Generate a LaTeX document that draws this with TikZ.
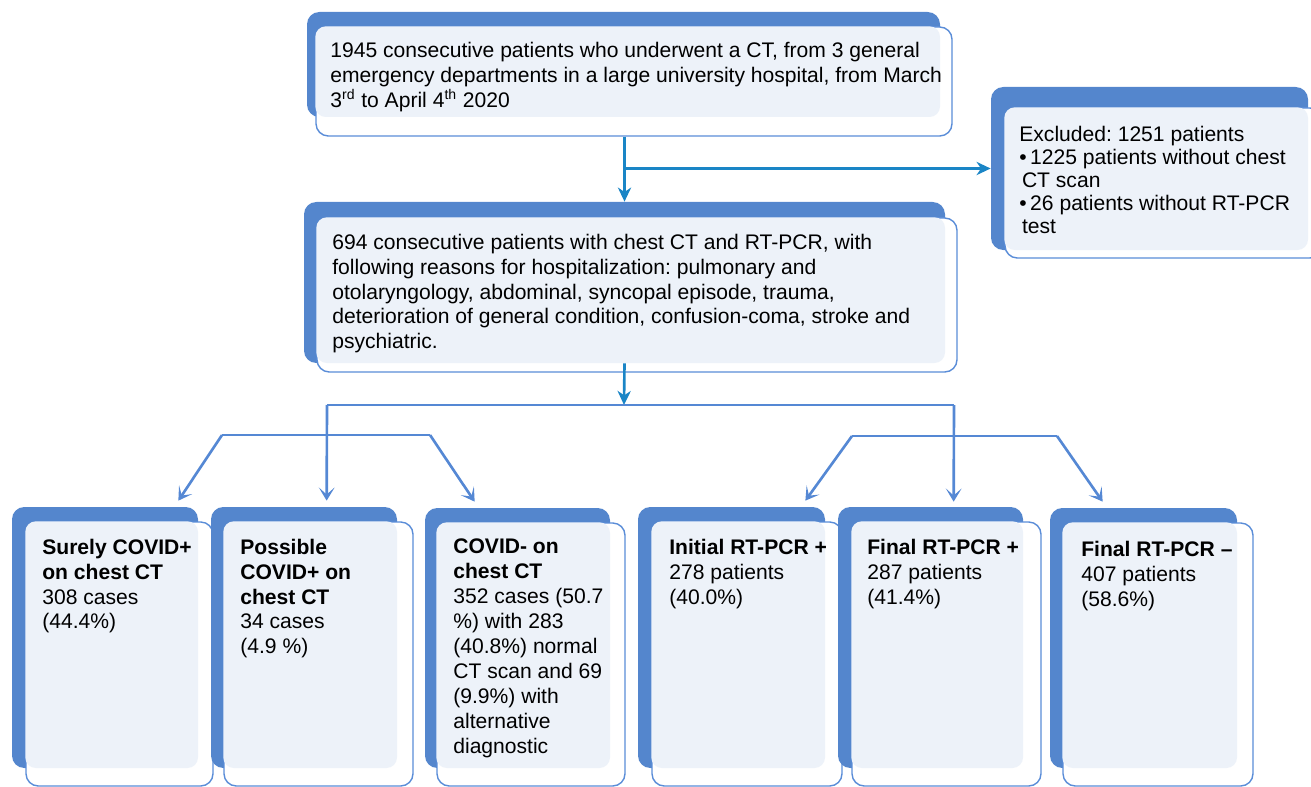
\documentclass[tikz,border=0pt]{standalone}
\usepackage{fontspec}
\setmainfont{Liberation Sans}
\frenchspacing
\usetikzlibrary{arrows.meta,fit}

\definecolor{backblue}{HTML}{5486CD}
\definecolor{lightfill}{HTML}{EDF2F9}
\definecolor{edgeblue}{HTML}{5A8DD8}
\definecolor{flowblue}{HTML}{1A85C6}
\definecolor{branchblue}{HTML}{5588D4}

\begin{document}
\begin{tikzpicture}[x=0.02cm,y=-0.02cm,
  backbox/.style={fill=backblue,rounded corners=7pt,inner sep=0pt},
  outbox/.style={draw=edgeblue,fill=white,line width=0.8pt,rounded corners=7pt,inner sep=0pt},
  lightbox/.style={fill=lightfill,rounded corners=6pt},
  boxtext/.style={anchor=north west,align=left,inner sep=0pt,font=\fontsize{12}{14.2}\selectfont},
  flow/.style={draw=flowblue,line width=1.5pt},
  flowtip/.style={flow,-{Stealth[length=8pt,width=7.5pt,inset=2.5pt]}},
  branch/.style={draw=branchblue,line width=1.5pt},
  branchtip/.style={branch,-{Stealth[length=7.5pt,width=9pt,inset=4pt]}}]
\useasboundingbox (0,0) rectangle (1311,787);

% top box
\node[backbox,fit={(307,12) (940,117)}] (top) {};
\node[outbox,fit={(316,27) (952,136)}] (top-o) {};
\fill[lightbox] (315.3,26.3) rectangle (940,117);
\node[boxtext] (top-t) at (330,41.5) {1945 consecutive patients who underwent a CT, from 3 general\\
emergency departments in a large university hospital, from March\\
3\textsuperscript{rd} to April 4\textsuperscript{th} 2020};

% excluded
\node[backbox,fit={(991,87) (1308,250)}] (excl) {};
\node[outbox,fit={(1005,108) (1322,258)}] (excl-o) {};
\fill[lightbox] (1004.3,107.3) rectangle (1308,250);
\node[boxtext,font=\fontsize{12}{13.2}\selectfont] (excl-t) at (1019,125.5) {Excluded: 1251 patients\\
•\,1225 patients without chest\\
\hspace{1.5pt}CT scan\\
•\,26 patients without RT-PCR\\
\hspace{1.5pt}test};

% middle box
\node[backbox,fit={(304,202) (945,363)}] (mid) {};
\node[outbox,fit={(317,218) (957,372)}] (mid-o) {};
\fill[lightbox] (316.3,217.3) rectangle (945,363);
\node[boxtext] (mid-t) at (332,233.5) {694 consecutive patients with chest CT and RT-PCR, with\\
following reasons for hospitalization: pulmonary and\\
otolaryngology, abdominal, syncopal episode, trauma,\\
deterioration of general condition, confusion-coma, stroke and\\
psychiatric.};

% bottom row
\node[backbox,fit={(12,507) (198,768)}] (b1) {};
\node[outbox,fit={(26,522) (213,786)}] (b1-o) {};
\fill[lightbox] (25.3,521.3) rectangle (198,768);
\node[boxtext] (b1-t) at (42,538.5) {\textbf{Surely COVID+}\\\textbf{on chest CT}\\308 cases\\(44.4\%)};

\node[backbox,fit={(211,507) (397,768)}] (b2) {};
\node[outbox,fit={(224,522) (413,786)}] (b2-o) {};
\fill[lightbox] (223.3,521.3) rectangle (397,768);
\node[boxtext] (b2-t) at (240,538.5) {\textbf{Possible}\\\textbf{COVID+ on}\\\textbf{chest CT}\\34 cases\\(4.9 \%)};

\node[backbox,fit={(425,508) (610,768)}] (b3) {};
\node[outbox,fit={(437,523) (625,786)}] (b3-o) {};
\fill[lightbox] (436.3,522.3) rectangle (610,768);
\node[boxtext] (b3-t) at (453,538.5) {\textbf{COVID- on}\\\textbf{chest CT}\\352 cases (50.7\\\%) with 283\\(40.8\%) normal\\CT scan and 69\\(9.9\%) with\\alternative\\diagnostic};

\node[backbox,fit={(638,507) (825,768)}] (b4) {};
\node[outbox,fit={(652,522) (842,786)}] (b4-o) {};
\fill[lightbox] (651.3,521.3) rectangle (825,768);
\node[boxtext] (b4-t) at (669,538.5) {\textbf{Initial RT-PCR +}\\278 patients\\(40.0\%)};

\node[backbox,fit={(838,507) (1023,768)}] (b5) {};
\node[outbox,fit={(852,522) (1041,786)}] (b5-o) {};
\fill[lightbox] (851.3,521.3) rectangle (1023,768);
\node[boxtext] (b5-t) at (867,538.5) {\textbf{Final RT-PCR +}\\287 patients\\(41.4\%)};

\node[backbox,fit={(1050,508) (1237,768)}] (b6) {};
\node[outbox,fit={(1063,523) (1253,786)}] (b6-o) {};
\fill[lightbox] (1062.3,522.3) rectangle (1237,768);
\node[boxtext] (b6-t) at (1081,540.5) {\textbf{Final RT-PCR --}\\407 patients\\(58.6\%)};

% connectors
\coordinate (split) at (624,405);
\coordinate (lsplit) at (327,405);
\coordinate (rsplit) at (954,405);
\coordinate (ll) at (222,435);
\coordinate (lr) at (430,435);
\coordinate (rl) at (852,436);
\coordinate (rr) at (1057,436);

\draw[flowtip] (top-o.south -| mid.north) -- (mid.north);
\draw[flowtip] (mid.north |- excl.west) -- (excl.west);
\draw[flowtip] (mid.south) -- (split);

\draw[branch] (lsplit) -- (rsplit);
\draw[branch] (ll) -- (lr);
\draw[branch] (rl) -- (rr);
\draw[branchtip] (lsplit) -- ([shift={(116,-6)}]b2.north west);
\draw[branchtip] (rsplit) -- ([shift={(116,-5)}]b5.north west);
\draw[branchtip] (ll) -- ([shift={(-20,-6)}]b1.north east);
\draw[branchtip] (lr) -- ([shift={(50,-6)}]b3.north west);
\draw[branchtip] (rl) -- ([shift={(-20,-6)}]b4.north east);
\draw[branchtip] (rr) -- ([shift={(53,-6)}]b6.north west);
\end{tikzpicture}
\end{document}
